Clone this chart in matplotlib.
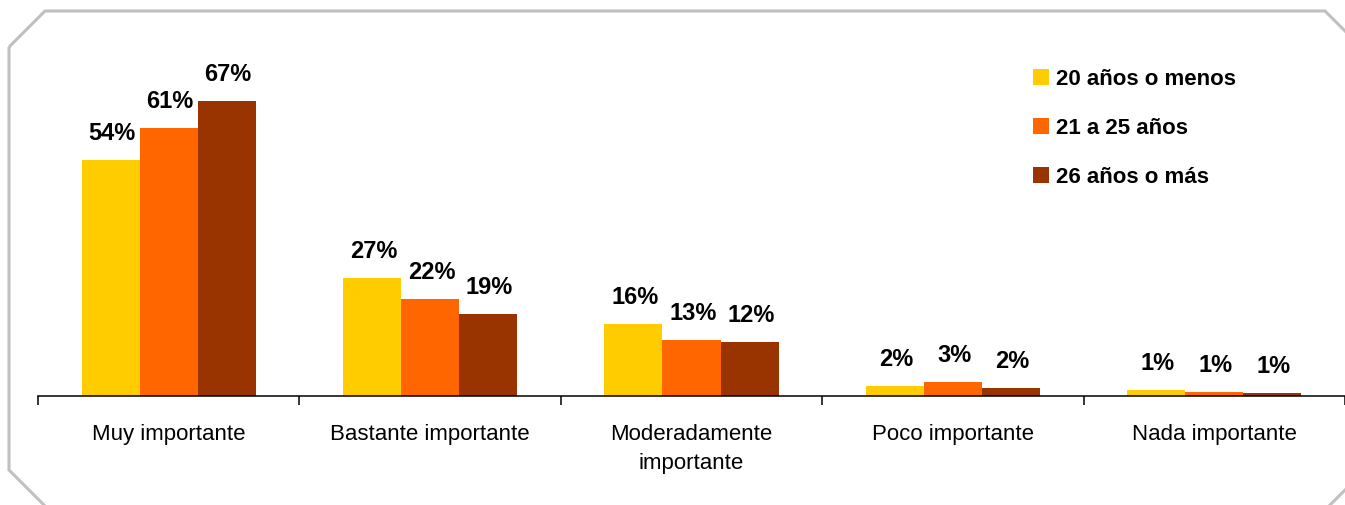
import matplotlib
matplotlib.use('Agg')
import matplotlib.pyplot as plt
import numpy as np
from matplotlib.patches import Polygon

plt.rcParams['font.family'] = ['Liberation Sans', 'DejaVu Sans']

categories = ['Muy importante', 'Bastante importante', 'Moderadamente\nimportante',
              'Poco importante', 'Nada importante']
series_names = ['20 años o menos', '21 a 25 años', '26 años o más']
menos_20 = [53.6, 26.8, 16.4, 2.3, 1.4]
de_21_a_25 = [60.9, 22.0, 12.7, 3.2, 0.9]
mas_26 = [67.0, 18.6, 12.3, 1.8, 0.6]
colors = ['#FFCC00', '#FF6600', '#993300']

W, H = 1345, 505
fig = plt.figure(figsize=(W / 100, H / 100), dpi=100)
ax = fig.add_axes([38 / W, (H - 396) / H, 1 - 38 / W, 352 / H])

x = np.arange(len(categories))
bw = 0.222
for i, (vals, name, col) in enumerate(zip([menos_20, de_21_a_25, mas_26], series_names, colors)):
    bars = ax.bar(x + (i - 1) * bw, vals, bw, color=col, label=name, zorder=2)
    for b, v in zip(bars, vals):
        ax.annotate(f'{v:.0f}%', (b.get_x() + b.get_width() / 2, v),
                    xytext=(1, 14.5), textcoords='offset points',
                    ha='center', va='baseline', fontsize=17, fontweight='bold')

ax.set_xlim(-0.5, len(categories) - 0.5)
ax.set_ylim(0, 80)
for s in ['top', 'right', 'left']:
    ax.spines[s].set_visible(False)
ax.spines['bottom'].set_linewidth(1.1)
ax.set_yticks([])
ax.set_xticks(x)
ax.set_xticklabels(categories, fontsize=16)
ax.tick_params(axis='x', which='major', length=0, pad=20)
ax.set_xticks(np.arange(-0.5, len(categories), 1), minor=True)
ax.tick_params(axis='x', which='minor', length=6.5, width=1.1, direction='out')
for lbl in ax.get_xticklabels():
    lbl.set_linespacing(1.5)

leg = ax.legend(loc='upper left', bbox_to_anchor=(1033 / W, 1 - 69 / H),
                bbox_transform=fig.transFigure, frameon=False, borderpad=0,
                borderaxespad=0, handlelength=0.72, handleheight=0.72,
                handletextpad=0.3, labelspacing=1.25,
                prop={'size': 16, 'weight': 'bold'})

# marco con esquinas recortadas
pts = [(9, 47), (45, 11), (1325, 11), (1385, 71), (1385, 450), (1310, 525),
       (64, 525), (9, 470)]
frame = Polygon([(px / W, 1 - py / H) for px, py in pts], closed=True,
                fill=False, edgecolor='#C0C0C0', linewidth=2.2,
                transform=fig.transFigure, clip_on=False)
fig.add_artist(frame)

fig.savefig('out.png', dpi=100)
